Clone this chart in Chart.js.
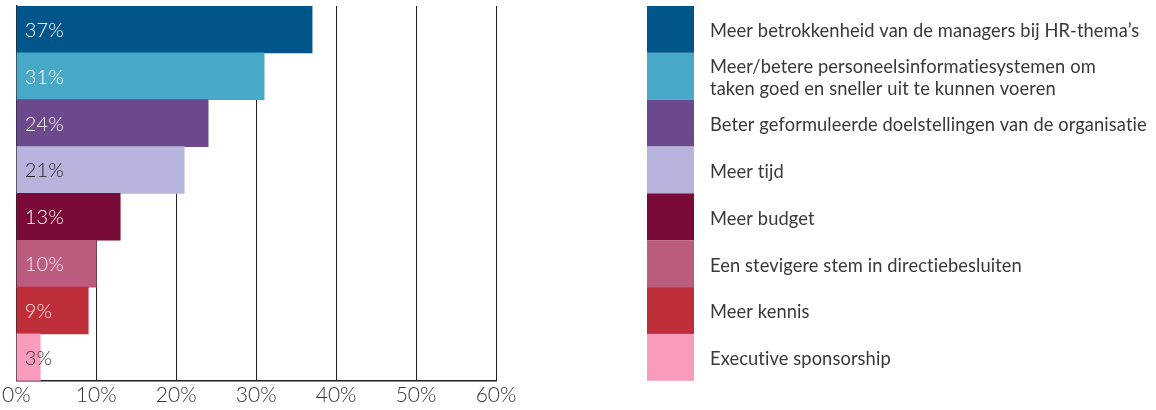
<!DOCTYPE html>
<html>
<head>
<meta charset="utf-8">
<script src="https://cdn.jsdelivr.net/npm/chart.js@4/dist/chart.umd.min.js"></script>
<style>
  html, body { margin:0; padding:0; background:#fff; }
  #wrap { position:relative; width:1156px; height:410px; }
</style>
</head>
<body>
<div id="wrap"><canvas id="hrChart"></canvas></div>
<script>
const categories = [
  ['Meer betrokkenheid van de managers bij HR-thema’s'],
  ['Meer/betere personeelsinformatiesystemen om', 'taken goed en sneller uit te kunnen voeren'],
  ['Beter geformuleerde doelstellingen van de organisatie'],
  ['Meer tijd'],
  ['Meer budget'],
  ['Een stevigere stem in directiebesluiten'],
  ['Meer kennis'],
  ['Executive sponsorship']
];
const values = [37, 31, 24, 21, 13, 10, 9, 3];
const xTicks = [0, 10, 20, 30, 40, 50, 60];

const colors = ['#01558a','#47a8c8','#6c498d','#b6b3dd','#7a0b38','#bb5b7e','#be2f39','#f89bbc'];
const labelColors = ['#fff','#fff','#fff','#222','#fff','#f7e8ee','#f9e6e8','#333'];

const FONT = 'Lato, "Open Sans", sans-serif';

// value labels inside the bars + a legend column on the right, aligned with the bars
const barExtras = {
  id: 'barExtras',
  afterDatasetsDraw(chart) {
    const ctx = chart.ctx;
    const meta = chart.getDatasetMeta(0);
    ctx.save();
    ctx.textBaseline = 'middle';
    ctx.textAlign = 'left';
    // tiny spacing keeps Lato from using its "ti" ligature
    if ('letterSpacing' in ctx) ctx.letterSpacing = '0.1px';
    meta.data.forEach((bar, i) => {
      ctx.fillStyle = labelColors[i];
      ctx.font = '300 20px ' + FONT;
      ctx.fillText(values[i] + '%', bar.base + 8, bar.y + 1);

      const h = bar.height;
      const top = bar.y - h / 2;
      ctx.fillStyle = colors[i];
      ctx.fillRect(647, top, 47, h);

      ctx.fillStyle = '#383838';
      ctx.font = '400 18.3px ' + FONT;
      const lines = categories[i];
      const step = 22;
      lines.forEach((ln, k) => {
        const y = bar.y + 2 + (k - (lines.length - 1) / 2) * step;
        ctx.fillText(ln, 710, y);
      });
    });
    ctx.restore();
  }
};

new Chart(document.getElementById('hrChart'), {
  type: 'bar',
  data: {
    labels: categories.map(c => c.join(' ')),
    datasets: [{
      data: values,
      backgroundColor: colors,
      borderWidth: 0,
      barPercentage: 1,
      categoryPercentage: 1
    }]
  },
  options: {
    indexAxis: 'y',
    responsive: true,
    maintainAspectRatio: false,
    animation: false,
    layout: { padding: { left: 12, top: 6, right: 660, bottom: 0 } },
    plugins: { legend: { display: false }, tooltip: { enabled: false } },
    scales: {
      x: {
        min: 0, max: 60,
        afterBuildTicks: s => { s.ticks = xTicks.map(v => ({ value: v })); },
        ticks: {
          callback: v => v + '%',
          color: '#333',
          font: { family: FONT, size: 21, weight: '300' },
          padding: 2,
          maxRotation: 0
        },
        grid: { color: '#222', lineWidth: 1, drawTicks: false },
        border: { color: '#222', width: 1.5 }
      },
      y: {
        ticks: { display: false },
        grid: { display: false, drawTicks: false },
        border: { color: '#222', width: 1.5 }
      }
    }
  },
  plugins: [barExtras]
});
</script>
</body>
</html>
